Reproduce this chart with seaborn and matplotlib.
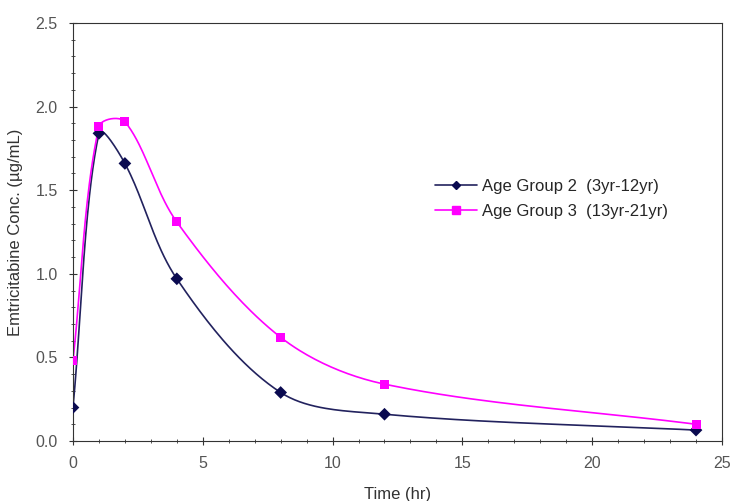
import numpy as np
import pandas as pd
import matplotlib
matplotlib.use("Agg")
import matplotlib.pyplot as plt
import seaborn as sns
from matplotlib.ticker import MultipleLocator
from matplotlib.lines import Line2D

time_hr = [0, 1, 2, 4, 8, 12, 24]
group2_conc = [0.20, 1.84, 1.66, 0.97, 0.29, 0.16, 0.065]
group3_conc = [0.48, 1.88, 1.91, 1.31, 0.62, 0.34, 0.10]
series_names = ["Age Group 2  (3yr-12yr)", "Age Group 3  (13yr-21yr)"]

sns.set_theme(style="white")
plt.rcParams["font.family"] = ["Liberation Sans", "DejaVu Sans"]

fig = plt.figure(figsize=(7.32, 5.01), dpi=100)
ax = fig.add_axes([0.0997, 0.1198, 0.8866, 0.8343])
ax.set_xlim(0, 25)
ax.set_ylim(0, 2.5)

df = pd.DataFrame({
    "Time": time_hr * 2,
    "Conc": group2_conc + group3_conc,
    "Group": [series_names[0]] * len(time_hr) + [series_names[1]] * len(time_hr),
})

colors = {series_names[0]: "#22225e", series_names[1]: "#ff00ff"}
mcolors = {series_names[0]: "#0a0a50", series_names[1]: "#ff00ff"}
markers = {series_names[0]: "D", series_names[1]: "s"}
msizes = {series_names[0]: 5, series_names[1]: 7}


def smooth(x, y, n=40):
    # smoothed line through the points (chord-weighted Bezier in display space)
    pts = ax.transData.transform(np.column_stack([x, y]))
    out = []
    m = len(pts)
    for i in range(m - 1):
        p0 = pts[max(i - 1, 0)]
        p1 = pts[i]
        p2 = pts[i + 1]
        p3 = pts[min(i + 2, m - 1)]
        d01 = np.linalg.norm(p1 - p0)
        d12 = np.linalg.norm(p2 - p1)
        d23 = np.linalg.norm(p3 - p2)
        if i == 0:
            c1 = p1 + (p2 - p1) / 3.0
        else:
            c1 = p1 + (p2 - p0) * d12 / (3.0 * (d01 + d12))
        if i == m - 2:
            c2 = p2 - (p2 - p1) / 3.0
        else:
            c2 = p2 - (p3 - p1) * d12 / (3.0 * (d12 + d23))
        t = np.linspace(0, 1, n)[:, None]
        seg = ((1 - t) ** 3) * p1 + 3 * ((1 - t) ** 2) * t * c1 + 3 * (1 - t) * t ** 2 * c2 + t ** 3 * p2
        out.append(seg)
    out = np.vstack(out)
    data = ax.transData.inverted().transform(out)
    return data[:, 0], data[:, 1]


for name, vals in zip(series_names, [group2_conc, group3_conc]):
    sx, sy = smooth(time_hr, vals)
    ax.plot(sx, sy, color=colors[name], lw=1.2, zorder=2)

sns.scatterplot(data=df, x="Time", y="Conc", hue="Group", style="Group",
                palette=mcolors, markers=markers, s=42, edgecolor="none",
                ax=ax, legend=False, zorder=3)

handles = [Line2D([0], [0], color=colors[n], lw=1.2, marker=markers[n],
                  markerfacecolor=mcolors[n], markeredgecolor=mcolors[n],
                  markersize=msizes[n] - 1) for n in series_names]
ax.legend(handles, series_names, loc="upper left", bbox_to_anchor=(0.548, 0.642),
          frameon=False, fontsize=12, handlelength=2.5, handletextpad=0.3,
          labelspacing=0.6, borderaxespad=0)

ax.xaxis.set_major_locator(MultipleLocator(5))
ax.xaxis.set_minor_locator(MultipleLocator(1))
ax.yaxis.set_major_locator(MultipleLocator(0.5))
ax.yaxis.set_minor_locator(MultipleLocator(0.1))
ax.yaxis.set_major_formatter(matplotlib.ticker.FormatStrFormatter("%.1f"))

ax.tick_params(axis="both", which="major", direction="inout", length=6, width=0.8,
               color="#333333", labelsize=11.5, labelcolor="#555555", bottom=True, left=True, pad=8)
ax.tick_params(axis="both", which="minor", direction="inout", length=3, width=0.6,
               color="#333333", bottom=True, left=True)

for side in ["left", "bottom", "top", "right"]:
    ax.spines[side].set_color("#333333")
    ax.spines[side].set_linewidth(0.8)

ax.set_xlabel("Time (hr)", fontsize=12, color="#333333", labelpad=11)
ax.set_ylabel("Emtricitabine Conc. (\u00b5g/mL)", fontsize=12, color="#333333", labelpad=9)

fig.savefig("out.png", dpi=100, facecolor="white")
